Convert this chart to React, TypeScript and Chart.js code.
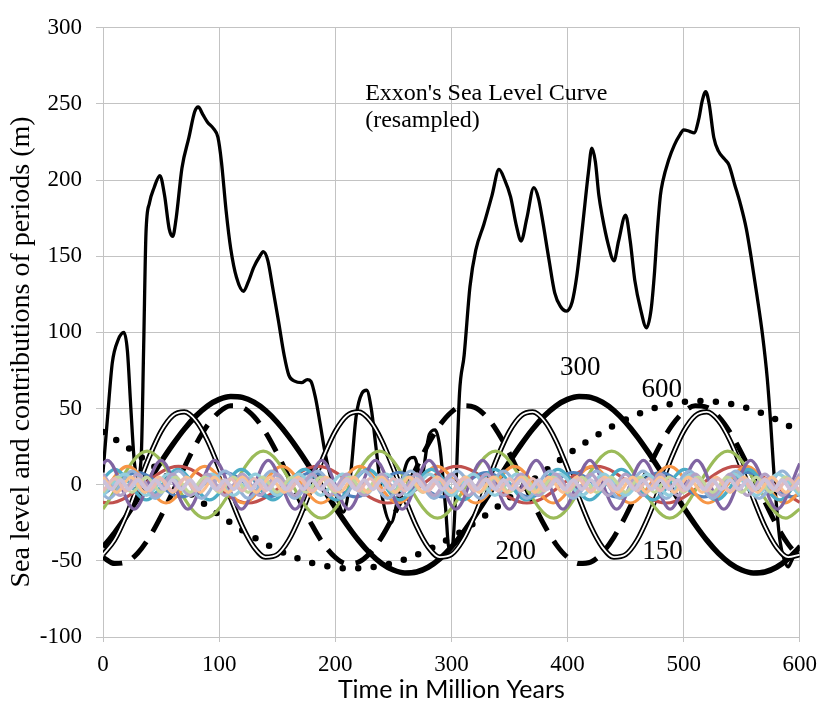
import React, { useEffect, useRef } from 'react';
import { Chart, registerables } from 'chart.js';
Chart.register(...registerables);

// ---- x grid used by the four long-period components (Million Years)
const X10 = [0,10,20,30,40,50,60,70,80,90,100,110,120,130,140,150,160,170,180,190,200,210,220,230,240,250,260,270,280,290,300,310,320,330,340,350,360,370,380,390,400,410,420,430,440,450,460,470,480,490,500,510,520,530,540,550,560,570,580,590,600];

// ---- Exxon's sea level curve (resampled)
const exxonX = [0,4,8,13,18,21,24,27,30,33,35,37,40,44,49,53,57,60,63,68,74,79,82,86,90,95,99,102,106,110,115,121,125,130,135,138,142,146,151,156,160,165,171,176,179,183,187,191,195,200,207,213,218,223,227,231,235,240,248,255,262,268,274,281,286,290,295,298,301,304,307,311,316,321,328,335,341,346,351,356,360,365,371,375,378,384,389,394,399,404,408,413,418,421,424,427,430,435,440,444,450,454,458,463,468,472,475,477,480,482,487,492,497,500,505,509,513,516,519,522,526,530,535,539,544,549,554,558,563,568,572,575,578,583,587,590,593,597,600];
const exxonY = [8,45,80,95,100,88,50,15,5,20,90,165,185,195,203,190,168,163,175,208,228,245,248,243,238,234,228,212,180,155,136,127,133,143,150,153,147,130,108,85,72,68,67,69,68,57,40,22,8,-5,-18,5,45,60,62,50,25,-6,-25,-5,15,18,5,33,36,25,-15,-42,-40,0,60,85,130,154,171,190,207,200,189,170,160,175,195,188,176,148,126,117,114,120,137,170,205,221,212,190,176,158,147,160,177,160,134,115,103,115,140,163,190,199,213,223,230,233,232,231,240,252,258,250,228,219,214,210,197,184,168,150,125,98,70,40,5,-37,-50,-54,-50,-43,-40];

// ---- contribution of the 600 My period (dotted)
const p600 = [34.6,30.0,25.0,19.7,14.2,8.6,2.9,-2.9,-8.6,-14.2,
  -19.7,-25.0,-30.0,-34.6,-38.9,-42.7,-46.1,-49.0,-51.4,-53.1,
  -54.3,-54.9,-54.9,-54.3,-53.1,-51.4,-49.0,-46.1,-42.7,-38.9,
  -34.6,-30.0,-25.0,-19.7,-14.2,-8.6,-2.9,2.9,8.6,14.2,
  19.7,25.0,30.0,34.6,38.9,42.7,46.1,49.0,51.4,53.1,
  54.3,54.9,54.9,54.3,53.1,51.4,49.0,46.1,42.7,38.9,
  34.6];

// ---- contribution of the 300 My period (thick solid)
const p300 = [-41.0,-31.6,-20.8,-9.1,3.0,15.0,26.3,36.5,45.1,51.7,
  56.0,57.9,57.3,54.2,48.7,41.0,31.6,20.8,9.1,-3.0,
  -15.0,-26.3,-36.5,-45.1,-51.7,-56.0,-57.9,-57.3,-54.2,-48.7,
  -41.0,-31.6,-20.8,-9.1,3.0,15.0,26.3,36.5,45.1,51.7,
  56.0,57.9,57.3,54.2,48.7,41.0,31.6,20.8,9.1,-3.0,
  -15.0,-26.3,-36.5,-45.1,-51.7,-56.0,-57.9,-57.3,-54.2,-48.7,
  -41.0];

// ---- contribution of the 200 My period (dashed)
const p200 = [-47.7,-51.8,-50.8,-44.8,-34.4,-20.6,-4.9,11.3,26.5,39.0,
  47.7,51.8,50.8,44.8,34.4,20.6,4.9,-11.3,-26.5,-39.0,
  -47.7,-51.8,-50.8,-44.8,-34.4,-20.6,-4.9,11.3,26.5,39.0,
  47.7,51.8,50.8,44.8,34.4,20.6,4.9,-11.3,-26.5,-39.0,
  -47.7,-51.8,-50.8,-44.8,-34.4,-20.6,-4.9,11.3,26.5,39.0,
  47.7,51.8,50.8,44.8,34.4,20.6,4.9,-11.3,-26.5,-39.0,
  -47.7];

// ---- contribution of the 150 My period (double line)
const p150 = [-45.9,-36.3,-20.4,-1.0,18.6,35.0,45.3,47.8,42.0,29.0,10.9,-9.0,-27.4,-41.0,-47.6,
  -45.9,-36.3,-20.4,-1.0,18.6,35.0,45.3,47.8,42.0,29.0,10.9,-9.0,-27.4,-41.0,-47.6,
  -45.9,-36.3,-20.4,-1.0,18.6,35.0,45.3,47.8,42.0,29.0,10.9,-9.0,-27.4,-41.0,-47.6,
  -45.9,-36.3,-20.4,-1.0,18.6,35.0,45.3,47.8,42.0,29.0,10.9,-9.0,-27.4,-41.0,-47.6,
  -45.9];

// ---- shorter periods (turning points)
const redX = [0,5,65,125,185,245,305,365,425,485,545,600];
const redY = [-11.6,-12,12,-12,12,-12,12,-12,12,-12,12,-11.6];

const greenX = [0,38,88,138,188,238,288,338,388,438,488,538,588,600];
const greenY = [-16,22,-22,22,-22,22,-22,22,-22,22,-22,22,-22,-16];

const blueX = [0,30,67.5,105,142.5,180,217.5,255,292.5,330,367.5,405,442.5,480,517.5,555,592.5,600];
const blueY = [-6.5,8,-8,8,-8,8,-8,8,-8,8,-8,8,-8,8,-8,8,-8,-6.5];

const orangeX = [0,21,54.3,87.7,121,154.3,187.7,221,254.3,287.7,321,354.3,387.7,421,454.3,487.7,521,554.3,587.7,600];
const orangeY = [-4.8,12,-12,12,-12,12,-12,12,-12,12,-12,12,-12,12,-12,12,-12,12,-12,-4.8];

const aquaX = [0,10,37.3,64.5,91.8,119.1,146.4,173.6,200.9,228.2,255.5,282.7,310,337.3,364.5,391.8,419.1,446.4,473.6,500.9,528.2,555.5,582.7,600];
const aquaY = [4.1,10,-10,10,-10,10,-10,10,-10,10,-10,10,-10,10,-10,10,-10,10,-10,10,-10,10,-10,4.1];

const purpleX = [0,3.8,26.9,50.0,73.1,96.1,119.2,142.3,165.4,188.4,211.5,234.6,257.7,280.8,303.8,326.9,350.0,373.1,396.1,419.2,442.3,465.4,488.4,511.5,534.6,557.7,580.8,600];
const purpleY = [13.9,16,-16,16,-16,16,-16,16,-16,16,-16,16,-16,16,-16,16,-16,16,-16,16,-16,16,-16,16,-16,16,-16,13.9];

const lblueX = [0,5,25,45,65,85,105,125,145,165,185,205,225,245,265,285,305,325,345,365,385,405,425,445,465,485,505,525,545,565,585,600];
const lblueY = [-6.4,-9,9,-9,9,-9,9,-9,9,-9,9,-9,9,-9,9,-9,9,-9,9,-9,9,-9,9,-9,9,-9,9,-9,9,-9,9,-6.4];

const laquaX = [0,18.75,37.5,56.25,75,93.75,112.5,131.25,150,168.75,187.5,206.25,225,243.75,262.5,281.25,300,318.75,337.5,356.25,375,393.75,412.5,431.25,450,468.75,487.5,506.25,525,543.75,562.5,581.25,600];
const laquaY = [-7,7,-7,7,-7,7,-7,7,-7,7,-7,7,-7,7,-7,7,-7,7,-7,7,-7,7,-7,7,-7,7,-7,7,-7,7,-7,7,-7];

const lpurpleX = [0,15,30,45,60,75,90,105,120,135,150,165,180,195,210,225,240,255,270,285,300,315,330,345,360,375,390,405,420,435,450,465,480,495,510,525,540,555,570,585,600];
const lpurpleY = [7,-7,7,-7,7,-7,7,-7,7,-7,7,-7,7,-7,7,-7,7,-7,7,-7,7,-7,7,-7,7,-7,7,-7,7,-7,7,-7,7,-7,7,-7,7,-7,7,-7,7];

const lgreenX = [0,12.5,25,37.5,50,62.5,75,87.5,100,112.5,125,137.5,150,162.5,175,187.5,200,212.5,225,237.5,250,262.5,275,287.5,300,312.5,325,337.5,350,362.5,375,387.5,400,412.5,425,437.5,450,462.5,475,487.5,500,512.5,525,537.5,550,562.5,575,587.5,600];
const lgreenY = [-5,5,-5,5,-5,5,-5,5,-5,5,-5,5,-5,5,-5,5,-5,5,-5,5,-5,5,-5,5,-5,5,-5,5,-5,5,-5,5,-5,5,-5,5,-5,5,-5,5,-5,5,-5,5,-5,5,-5,5,-5];

const peachX = [0,12,24,36,48,60,72,84,96,108,120,132,144,156,168,180,192,204,216,228,240,252,264,276,288,300,312,324,336,348,360,372,384,396,408,420,432,444,456,468,480,492,504,516,528,540,552,564,576,588,600];
const peachY = [5,-5,5,-5,5,-5,5,-5,5,-5,5,-5,5,-5,5,-5,5,-5,5,-5,5,-5,5,-5,5,-5,5,-5,5,-5,5,-5,5,-5,5,-5,5,-5,5,-5,5,-5,5,-5,5,-5,5,-5,5,-5,5];

const pinkY = [-4,4,-4,4,-4,4,-4,4,-4,4,-4,4,-4,4,-4,4,-4,4,-4,4,-4,4,-4,4,-4,4,-4,4,-4,4,-4,4,-4,4,-4,4,-4,4,-4,4,-4,4,-4,4,-4,4,-4,4,-4,4,-4,4,-4,4,-4,4,-4,4,-4,4,-4];

const lavX = [0,7.5,15,22.5,30,37.5,45,52.5,60,67.5,75,82.5,90,97.5,105,112.5,120,127.5,135,142.5,150,157.5,165,172.5,180,187.5,195,202.5,210,217.5,225,232.5,240,247.5,255,262.5,270,277.5,285,292.5,300,307.5,315,322.5,330,337.5,345,352.5,360,367.5,375,382.5,390,397.5,405,412.5,420,427.5,435,442.5,450,457.5,465,472.5,480,487.5,495,502.5,510,517.5,525,532.5,540,547.5,555,562.5,570,577.5,585,592.5,600];
const lavY = [3,-3,3,-3,3,-3,3,-3,3,-3,3,-3,3,-3,3,-3,3,-3,3,-3,3,-3,3,-3,3,-3,3,-3,3,-3,3,-3,3,-3,3,-3,3,-3,3,-3,3,-3,3,-3,3,-3,3,-3,3,-3,3,-3,3,-3,3,-3,3,-3,3,-3,3,-3,3,-3,3,-3,3,-3,3,-3,3,-3,3,-3,3,-3,3,-3,3,-3,3];

// ---- text annotations (in data units)
const noteText = ["Exxon's Sea Level Curve", '(resampled)', '300', '600', '200', '150'];
const noteX = [225.8, 225.8, 411, 481.1, 355.4, 481.8];
const noteY = [256.7, 239, 76.6, 62.4, -43.8, -43.8];

const yTitle = 'Sea level and contributions of periods (m)';
const xTitle = 'Time in Million Years';

const zip = (xs: number[], ys: number[]) => xs.map((x, i) => ({ x, y: ys[i] }));

const SERIF = '"Liberation Serif", "Times New Roman", serif';

export default function App() {
  const ref = useRef<HTMLCanvasElement | null>(null);
  useEffect(() => {
    if (!ref.current) return;
    const layers: any[] = [
      { label: "Exxon's Sea Level Curve", x: exxonX, y: exxonY, color: '#000000', width: 3.3 },
      { label: '600', x: X10, y: p600, color: '#000000', width: 6.5, dash: [0, 15.5], cap: 'round' },
      { label: '300', x: X10, y: p300, color: '#000000', width: 5.5 },
      { label: '200', x: X10, y: p200, color: '#000000', width: 5, dash: [21, 12] },
      { label: '150', x: X10, y: p150, color: '#000000', width: 5.2 },
      { label: '150 inner', x: X10, y: p150, color: '#ffffff', width: 1.8 },
      { label: '120', x: redX, y: redY, color: '#C0504D', width: 3.2 },
      { label: '100', x: greenX, y: greenY, color: '#9BBB59', width: 3.2 },
      { label: '75', x: blueX, y: blueY, color: '#4F81BD', width: 3.2 },
      { label: '66.7', x: orangeX, y: orangeY, color: '#F79646', width: 3.2 },
      { label: '54.5', x: aquaX, y: aquaY, color: '#4BACC6', width: 3.2 },
      { label: '46.2', x: purpleX, y: purpleY, color: '#8064A2', width: 3.2 },
      { label: '40', x: lblueX, y: lblueY, color: '#95B3D7', width: 3.2 },
      { label: '37.5', x: laquaX, y: laquaY, color: '#93CDDD', width: 3.2 },
      { label: '30', x: lpurpleX, y: lpurpleY, color: '#B3A2C7', width: 3.2 },
      { label: '25', x: lgreenX, y: lgreenY, color: '#C3D69B', width: 3.2 },
      { label: '24', x: peachX, y: peachY, color: '#FAC090', width: 3.2 },
      { label: '20', x: X10, y: pinkY, color: '#E6B9B8', width: 3.2 },
      { label: '15', x: lavX, y: lavY, color: '#CCC1DA', width: 3.8 },
    ];
    const datasets = layers.map((l, i) => ({
      label: l.label,
      data: zip(l.x, l.y),
      borderColor: l.color,
      backgroundColor: l.color,
      borderWidth: l.width,
      borderDash: l.dash || [],
      borderCapStyle: l.cap || 'butt',
      borderJoinStyle: 'round',
      pointRadius: 0,
      fill: false,
      cubicInterpolationMode: 'monotone',
      order: layers.length - i,
    }));

    const notes = {
      id: 'notes',
      afterDatasetsDraw(chart: any) {
        const { ctx, scales } = chart;
        ctx.save();
        ctx.fillStyle = '#000';
        ctx.textBaseline = 'middle';
        noteText.forEach((t, i) => {
          const big = i >= 2;
          ctx.font = (big ? '27px ' : '24px ') + SERIF;
          ctx.textAlign = big ? 'center' : 'left';
          ctx.fillText(t, scales.x.getPixelForValue(noteX[i]), scales.y.getPixelForValue(noteY[i]));
        });
        // vertical axis title
        ctx.save();
        ctx.translate(22, 352);
        ctx.rotate(-Math.PI / 2);
        ctx.textAlign = 'center';
        ctx.font = '28px ' + SERIF;
        ctx.fillText(yTitle, 0, 0);
        ctx.restore();
        ctx.restore();
      },
    };

    const gridColor = '#c3c3c3';
    const chart = new Chart(ref.current, {
      type: 'line',
      data: { datasets } as any,
      options: {
        animation: false,
        responsive: true,
        maintainAspectRatio: false,
        layout: { padding: { top: 22, right: 19, left: 0, bottom: 0 } },
        plugins: { legend: { display: false }, tooltip: { enabled: false } },
        scales: {
          x: {
            type: 'linear',
            min: 0,
            max: 600,
            ticks: { stepSize: 100, color: '#000', font: { family: SERIF, size: 23 }, padding: 9, maxRotation: 0 },
            grid: { color: gridColor, tickLength: 5, lineWidth: 1 },
            border: { color: gridColor },
            title: { display: true, text: xTitle, color: '#000', font: { family: 'Lato, "Open Sans", sans-serif', size: 25 }, padding: { top: 0, bottom: 1 } },
            afterFit(s: any) { s.height = 69; },
          },
          y: {
            type: 'linear',
            min: -100,
            max: 300,
            ticks: { stepSize: 50, color: '#000', font: { family: SERIF, size: 23 }, padding: 14 },
            grid: { color: gridColor, tickLength: 7, lineWidth: 1 },
            border: { color: gridColor },
            title: { display: false },
            afterFit(s: any) { s.width = 103; },
          },
        },
      } as any,
      plugins: [notes],
    });
    return () => chart.destroy();
  }, []);
  return (
    <div style={{ position: 'absolute', left: 0, top: 0, width: 826, height: 706 }}>
      <canvas ref={ref} />
    </div>
  );
}
